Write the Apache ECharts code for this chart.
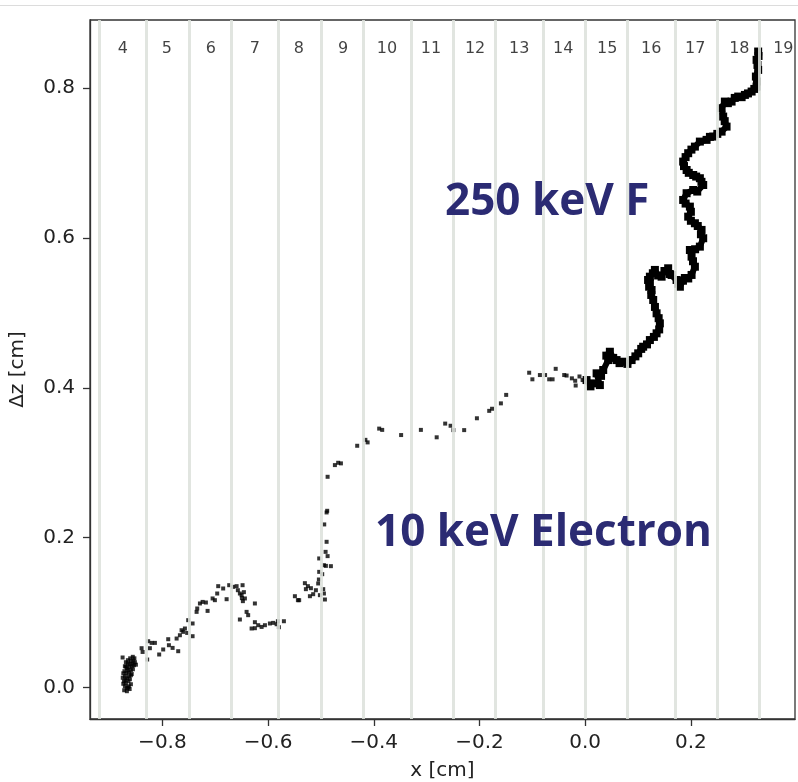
<!DOCTYPE html>
<html>
<head>
<meta charset="utf-8">
<script src="https://cdn.jsdelivr.net/npm/echarts@6/dist/echarts.min.js"></script>
<style>html,body{margin:0;padding:0;background:#fff;}#c{width:798px;height:782px;}</style>
</head>
<body>
<div id="c"></div>
<script>
// ---- data (cm) ----
var xTicks = [-0.8, -0.6, -0.4, -0.2, 0.0, 0.2];
var yTicks = [0.0, 0.2, 0.4, 0.6, 0.8];
var stripEdges = [-11/12, -10/12, -9/12, -8/12, -7/12, -6/12, -5/12, -4/12, -3/12, -2/12, -1/12, 0, 1/12, 2/12, 3/12, 4/12, 5/12];
var stripLabels = ['4','5','6','7','8','9','10','11','12','13','14','15','16','17','18','19'];
var stripLabelY = 0.8525;

var electron = [
  [-0.8753,0.0401],[-0.8691,0.0338],[-0.8653,0.0365],[-0.8596,0.0351],[-0.8549,0.0358],[-0.8520,0.0338],
  [-0.8710,0.0284],[-0.8672,0.0258],[-0.8624,0.0271],[-0.8577,0.0284],[-0.8539,0.0298],[-0.8501,0.0305],
  [-0.8719,0.0218],[-0.8681,0.0191],[-0.8634,0.0204],[-0.8596,0.0231],[-0.8558,0.0244],[-0.8710,0.0151],
  [-0.8672,0.0124],[-0.8634,0.0151],[-0.8596,0.0164],[-0.8728,0.0084],[-0.8691,0.0057],[-0.8643,0.0084],
  [-0.8615,0.0111],[-0.8710,0.0017],[-0.8672,-0.0009],[-0.8634,0.0017],[-0.8596,0.0044],[-0.8723,-0.0036],
  [-0.8672,-0.0049],[-0.8653,0.0318],[-0.8615,0.0311],[-0.8700,0.0100],[-0.8660,0.0230],[-0.8570,0.0320],
  [-0.8740,0.0050],[-0.8650,0.0000],[-0.8690,0.0280],[-0.8530,0.0390],[-0.8560,0.0410],[-0.8610,0.0390],
  [-0.8740,0.0190],[-0.8750,0.0130],[-0.8580,0.0180],[-0.8620,-0.0020],
  [-0.8394,0.0525],[-0.8375,0.0475],[-0.8269,0.0618],[-0.8237,0.0525],[-0.8204,0.0596],[-0.8142,0.0596],
  [-0.8288,0.0374],[-0.8061,0.0441],[-0.7985,0.0508],[-0.7890,0.0645],[-0.7877,0.0565],[-0.7807,0.0529],
  [-0.7701,0.0485],[-0.7731,0.0654],[-0.7669,0.0698],[-0.7637,0.0765],[-0.7606,0.0743],[-0.7574,0.0788],
  [-0.7531,0.0729],[-0.7512,0.0899],[-0.7429,0.0855],[-0.7429,0.0685],[-0.7353,0.1010],[-0.7341,0.1055],
  [-0.7290,0.1122],[-0.7239,0.1143],[-0.7177,0.1135],[-0.7145,0.1023],[-0.7050,0.1189],[-0.7007,0.1166],
  [-0.6963,0.1255],[-0.6944,0.1353],[-0.6850,0.1322],[-0.6785,0.1179],[-0.6736,0.1366],[-0.6660,0.1344],
  [-0.6596,0.1353],[-0.6534,0.1255],[-0.6483,0.1366],[-0.6501,0.1233],[-0.6496,0.1193],[-0.6477,0.1153],
  [-0.6439,0.1189],[-0.6407,0.1010],[-0.6377,0.0966],[-0.6250,0.1122],[-0.6534,0.0908],[-0.6312,0.0788],
  [-0.6250,0.0872],[-0.6250,0.0792],[-0.6187,0.0832],[-0.6123,0.0809],[-0.6060,0.0832],[-0.5966,0.0855],
  [-0.5903,0.0863],[-0.5839,0.0845],[-0.5815,0.0885],[-0.5796,0.0805],[-0.5701,0.0885],[-0.6572,0.1299],
  [-0.6458,0.1273],
  [-0.5436,0.1166],[-0.5493,0.1219],[-0.5412,0.1166],[-0.5304,0.1393],[-0.5247,0.1353],[-0.5190,0.1326],
  [-0.5285,0.1313],[-0.5209,0.1219],[-0.5147,0.1246],[-0.5096,0.1299],[-0.5020,0.1233],[-0.4957,0.1313],
  [-0.4944,0.1255],[-0.4925,0.1175],[-0.5052,0.1389],[-0.5039,0.1442],[-0.5033,0.1544],[-0.4976,0.1513],
  [-0.4944,0.1633],[-0.4906,0.1624],[-0.4812,0.1620],[-0.5033,0.1723],[-0.4874,0.1754],[-0.4912,0.1811],
  [-0.4893,0.1945],[-0.4938,0.2177],[-0.4882,0.2359],[-0.4893,0.2337],[-0.4874,0.2813],[-0.4736,0.2969],
  [-0.4674,0.3000],[-0.4622,0.2992],[-0.4314,0.3227],[-0.4159,0.3306],[-0.4117,0.3272],[-0.3898,0.3456],
  [-0.3841,0.3439],[-0.3483,0.3370],[-0.3109,0.3439],[-0.2810,0.3340],[-0.2649,0.3523],[-0.2547,0.3494],
  [-0.2494,0.3436],[-0.2290,0.3436],[-0.2049,0.3594],[-0.1816,0.3693],[-0.1762,0.3721],[-0.1595,0.3793],
  [-0.1495,0.3906],[-0.1060,0.4202],[-0.0999,0.4114],[-0.0857,0.4171],[-0.0759,0.4171],[-0.0681,0.4114],
  [-0.0617,0.4114],[-0.0558,0.4254],[-0.0397,0.4171],[-0.0352,0.4164],[-0.0252,0.4127],[-0.0189,0.4095],
  [-0.0180,0.4031],[-0.0108,0.4152],[-0.0049,0.4104]
];

var fluorine = [
  [0.0026,0.4104],[0.0100,0.4020],[0.0151,0.4060],[0.0278,0.4037],[0.0216,0.4194],[0.0300,0.4160],
  [0.0341,0.4238],[0.0435,0.4371],[0.0400,0.4430],[0.0467,0.4482],[0.0530,0.4400],[0.0594,0.4371],
  [0.0650,0.4330],[0.0719,0.4349],[0.0800,0.4320],[0.0878,0.4371],[0.0950,0.4420],[0.1003,0.4461],
  [0.1060,0.4520],[0.1097,0.4549],[0.1170,0.4580],[0.1224,0.4638],[0.1300,0.4680],[0.1351,0.4728],
  [0.1400,0.4780],[0.1413,0.4861],[0.1390,0.4930],[0.1351,0.4995],[0.1320,0.5080],[0.1287,0.5173],
  [0.1250,0.5240],[0.1256,0.5306],[0.1210,0.5350],[0.1224,0.5396],[0.1190,0.5440],[0.1224,0.5484],
  [0.1280,0.5530],[0.1319,0.5574],[0.1380,0.5500],[0.1446,0.5484],[0.1500,0.5560],[0.1570,0.5596],
  [0.1600,0.5520],[0.1635,0.5507],[0.1729,0.5440],[0.1760,0.5390],[0.1792,0.5350],[0.1850,0.5430],
  [0.1886,0.5466],[0.1950,0.5460],[0.2013,0.5507],[0.2076,0.5617],[0.2040,0.5690],[0.2013,0.5751],
  [0.1981,0.5840],[0.2080,0.5850],[0.2170,0.5885],[0.2233,0.5997],[0.2190,0.6050],[0.2202,0.6108],
  [0.2130,0.6160],[0.2076,0.6197],[0.2000,0.6230],[0.1949,0.6285],[0.2000,0.6350],[0.1981,0.6419],
  [0.1900,0.6460],[0.1854,0.6508],[0.1919,0.6598],[0.2044,0.6641],[0.2120,0.6620],[0.2233,0.6708],
  [0.2200,0.6750],[0.2170,0.6798],[0.2100,0.6820],[0.2044,0.6841],[0.1960,0.6870],[0.1919,0.6908],
  [0.1870,0.6960],[0.1854,0.7020],[0.1900,0.7080],[0.1949,0.7132],[0.2010,0.7180],[0.2076,0.7220],
  [0.2170,0.7287],[0.2297,0.7310],[0.2360,0.7350],[0.2422,0.7354],[0.2500,0.7390],[0.2581,0.7420],
  [0.2675,0.7487],[0.2640,0.7560],[0.2611,0.7621],[0.2581,0.7733],[0.2643,0.7821],[0.2700,0.7800],
  [0.2770,0.7821],[0.2830,0.7870],[0.2895,0.7888],[0.2960,0.7880],[0.3022,0.7910],[0.3080,0.7930],
  [0.3149,0.7955],[0.3200,0.7990],[0.3243,0.8021],[0.3250,0.8090],[0.3230,0.8155],[0.3273,0.8244],
  [0.3260,0.8310],[0.3243,0.8378],[0.3280,0.8430],[0.3273,0.8489]
];

var labelF = '250 keV F';
var labelE = '10 keV Electron';

// ---- chart ----
function fmt(v) { return v.toFixed(1).replace('-', '\u2212'); }
var stripCenters = [];
for (var i = 0; i < stripLabels.length; i++) {
  stripCenters.push({ value: [(stripEdges[i] + stripEdges[i + 1]) / 2, stripLabelY], name: stripLabels[i] });
}
var chart = echarts.init(document.getElementById('c'), null, { renderer: 'canvas' });
var axisFont = 'DejaVu Sans';
var frame = { color: '#333', width: 1.3 };
chart.setOption({
  animation: false,
  backgroundColor: '#ffffff',
  grid: { left: 90, top: 20, right: 3, bottom: 63, outerBoundsMode: 'none', containLabel: false, show: true, borderColor: '#333', borderWidth: 1.3, backgroundColor: 'transparent' },
  xAxis: {
    type: 'value', min: -0.937, max: 0.397,
    name: 'x [cm]', nameLocation: 'middle', nameGap: 42,
    nameTextStyle: { fontFamily: axisFont, fontSize: 20, color: '#222' },
    axisLine: { show: true, onZero: false, lineStyle: frame },
    splitLine: { show: false },
    axisTick: { show: true, customValues: xTicks, length: 7, inside: false, lineStyle: frame },
    axisLabel: { customValues: xTicks, formatter: fmt, margin: 14, fontFamily: axisFont, fontSize: 20, color: '#222' }
  },
  yAxis: {
    type: 'value', min: -0.042, max: 0.891,
    name: '\u0394z [cm]', nameLocation: 'middle', nameGap: 62, nameRotate: 90,
    nameTextStyle: { fontFamily: axisFont, fontSize: 20, color: '#222' },
    axisLine: { show: true, onZero: false, lineStyle: frame },
    splitLine: { show: false },
    axisTick: { show: true, customValues: yTicks, length: 7, lineStyle: frame },
    axisLabel: { customValues: yTicks, formatter: fmt, margin: 15, fontFamily: axisFont, fontSize: 20, color: '#222' }
  },
  series: [
    {
      name: 'electron', type: 'scatter', data: electron, symbol: 'rect', symbolSize: 4,
      itemStyle: { color: '#000' }, z: 2, silent: true
    },
    {
      name: 'fluorine', type: 'line', data: fluorine, showSymbol: true, symbol: 'rect', symbolSize: 8,
      itemStyle: { color: '#000' },
      lineStyle: { color: '#000', width: 6, join: 'round' }, z: 3, silent: true
    },
    {
      name: 'strips', type: 'scatter', data: [], z: 5, silent: true,
      markLine: {
        silent: true, symbol: 'none', animation: false,
        label: { show: false },
        lineStyle: { color: '#dde1dc', width: 3, type: 'solid', opacity: 0.88 },
        data: stripEdges.map(function (v) { return { xAxis: v }; })
      }
    },
    {
      name: 'stripLabels', type: 'scatter', data: stripCenters, symbolSize: 0, z: 6, silent: true,
      label: { show: true, position: 'inside', formatter: function (p) { return p.name; }, fontFamily: axisFont, fontSize: 16, color: '#111' }
    }
  ],
  graphic: [
    { type: 'line', shape: { x1: 0, y1: 5.5, x2: 798, y2: 5.5 }, style: { stroke: '#dcdcdc', lineWidth: 1 }, z: 10 },
    { type: 'text', left: 445, top: 180, z: 20, style: { text: labelF, fontFamily: 'Open Sans', fontWeight: 'bold', fontSize: 44, fill: '#2b2b73' } },
    { type: 'text', left: 375, top: 511, z: 20, style: { text: labelE, fontFamily: 'Open Sans', fontWeight: 'bold', fontSize: 44, fill: '#2b2b73' } }
  ]
});
</script>
</body>
</html>
